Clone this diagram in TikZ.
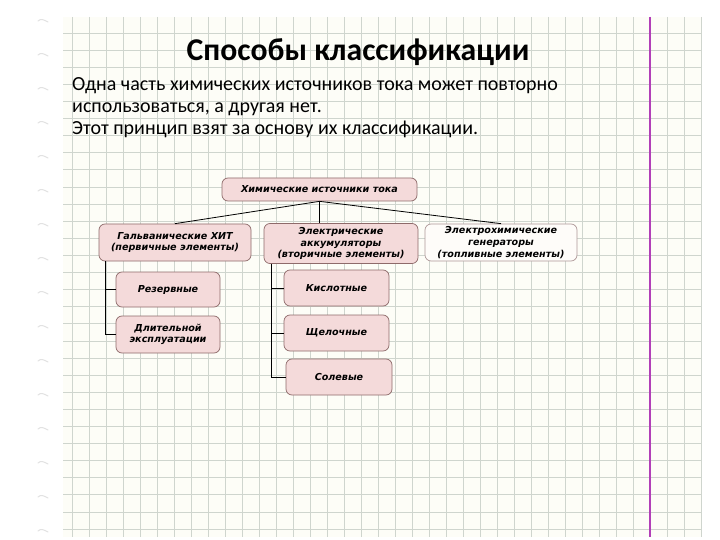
\documentclass[tikz,border=0pt]{standalone}
\usepackage{fontspec}
\setmainfont{Carlito}
\newfontfamily\boxfont{DejaVu Sans}
\usepackage{xcolor}
\definecolor{PaperBg}{HTML}{FDFDF7}
\definecolor{GridLine}{HTML}{CFD5CE}
\definecolor{MarginLine}{HTML}{B23FB8}
\definecolor{RingMark}{HTML}{E2E2E2}
\definecolor{BoxFill}{HTML}{F4DADA}
\definecolor{BoxBorder}{HTML}{8E6A6A}
\definecolor{GenFill}{HTML}{FEFCF9}
\definecolor{GenBorder}{HTML}{AE9898}
\usetikzlibrary{positioning}

\begin{document}
\begin{tikzpicture}[
  x=1pt, y=-1pt,
  catbox/.style={rectangle, rounded corners=6pt, draw=BoxBorder, fill=BoxFill,
                 line width=0.7pt, align=center, inner sep=1pt,
                 font=\boxfont\fontsize{9.6}{11.7}\selectfont\bfseries\itshape},
  genbox/.style={catbox, draw=GenBorder, fill=GenFill},
  link/.style={draw=black, line width=0.8pt},
]
\useasboundingbox (0,0) rectangle (720,540);
\fill[white] (0,0) rectangle (720,540);
% paper
\fill[PaperBg] (63,17) rectangle (701,537);
\foreach \k in {0,...,37} {
  \draw[GridLine, line width=0.6pt] ({72+17*\k},17) -- ({72+17*\k},537);
}
\foreach \k in {0,...,29} {
  \draw[GridLine, line width=0.6pt] (63,{33+17.1*\k}) -- (701,{33+17.1*\k});
}
\draw[MarginLine, line width=1.8pt] (650,17) -- (650,537);
% ring marks
\foreach \k in {0,...,15} {
  \draw[RingMark, line width=1pt, line cap=round]
    (38,{21+34*\k}) .. controls (41,{18+34*\k}) and (44,{20+34*\k}) .. (48,{22+34*\k});
}

\node[font=\fontsize{31.7}{34}\selectfont\bfseries] (title) at (358,52) {Способы классификации};
\node[anchor=north west, align=left, inner sep=0pt,
      font=\fontsize{20}{22}\selectfont] (intro) at (72,77)
  {Одна часть химических источников тока может повторно\\
   использоваться, а другая нет.\\
   Этот принцип взят за основу их классификации.};

% tree
\node[catbox, minimum width=195, minimum height=23] (hit) at (319.5,189.5) {Химические источники тока};
\node[catbox, minimum width=152, minimum height=37] (galv) at (175,242.5)
  {Гальванические ХИТ\\(первичные элементы)};
\node[catbox, minimum width=154, minimum height=40] (akk) at (341,243.5)
  {Электрические\\аккумуляторы\\(вторичные элементы)};
\node[genbox, minimum width=152, minimum height=37] (gen) at (501,242.5)
  {Электрохимические\\генераторы\\(топливные элементы)};

\node[catbox, minimum width=104, minimum height=35] (rez) at (168,289.5) {Резервные};
\node[catbox, minimum width=104, minimum height=37] (dlit) at (168,334.5)
  {Длительной\\эксплуатации};
\node[catbox, minimum width=105, minimum height=36] (kisl) at (336.5,288) {Кислотные};
\node[catbox, minimum width=105, minimum height=36] (shch) at (336.5,333) {Щелочные};
\node[catbox, minimum width=106, minimum height=36] (sol) at (339,377) {Солевые};

\draw[link] (hit.south) -- (galv.north);
\draw[link] (hit.south) -- (hit.south |- akk.north);
\draw[link] (hit.south) -- (gen.north);
\draw[link] ([xshift=7pt]galv.south west) |- (rez.west);
\draw[link] ([xshift=7pt]galv.south west) |- (dlit.west);
\draw[link] ([xshift=8pt]akk.south west) |- (kisl.west);
\draw[link] ([xshift=8pt]akk.south west) |- (shch.west);
\draw[link] ([xshift=8pt]akk.south west) |- (sol.west);
\end{tikzpicture}
\end{document}
